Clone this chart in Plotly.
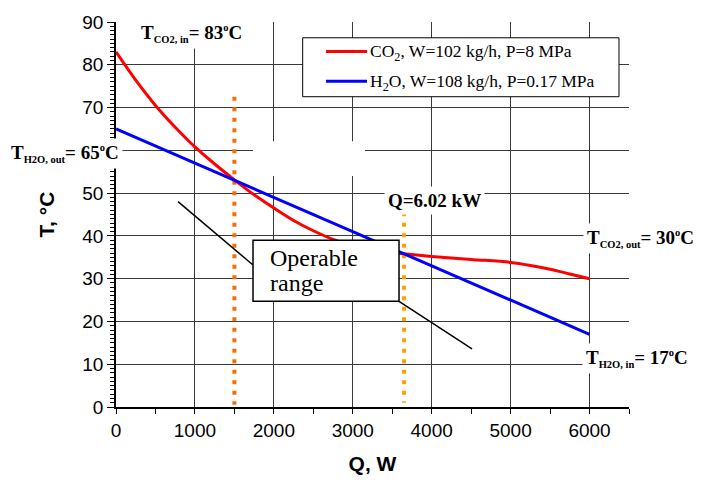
import plotly.graph_objects as go

# ---- data ----
Q_co2 = [0, 250, 500, 750, 1000, 1250, 1500, 1750, 2000, 2250, 2500, 2750,
         3000, 3250, 3500, 3650, 4000, 4500, 5000, 5250, 5500, 5750, 6000]
T_co2 = [83, 76.4, 70.5, 65.4, 60.8, 56.8, 53.1, 49.6, 46.5, 43.6, 41.2, 39.2,
         37.8, 36.8, 36.1, 35.8, 35.2, 34.5, 33.8, 33.1, 32.2, 31.1, 30]
Q_h2o = [0, 6000]
T_h2o = [65, 17]
pinch_Q = [1500, 3650]
pinch_T_top = [72.5, 45.5]
pinch_T_bottom = [0.5, 1.0]
x_ticks = [0, 1000, 2000, 3000, 4000, 5000, 6000]
y_ticks = [0, 10, 20, 30, 40, 50, 60, 70, 80, 90]

name_co2 = "CO<sub>2</sub>, W=102 kg/h, P=8 MPa"
name_h2o = "H<sub>2</sub>O, W=108 kg/h, P=0.17 MPa"
series_colors = ["#FF0000", "#0000FF"]

SANS = "Liberation Sans, Arial, sans-serif"
SERIF = "Liberation Serif, Times New Roman, serif"

fig = go.Figure()

pinch_colors = ["#FF6A00", "#FFA000"]
for q, t0, t1, c in zip(pinch_Q, pinch_T_top, pinch_T_bottom, pinch_colors):
    fig.add_trace(go.Scatter(x=[q, q], y=[t0, t1], mode="lines",
                             line=dict(color=c, width=4, dash="4px,6.5px"),
                             showlegend=False, hoverinfo="skip"))

fig.add_trace(go.Scatter(x=Q_co2, y=T_co2, mode="lines", name=name_co2, showlegend=False,
                         line=dict(color=series_colors[0], width=3, shape="spline", smoothing=1.0)))
fig.add_trace(go.Scatter(x=Q_h2o, y=T_h2o, mode="lines", name=name_h2o, showlegend=False,
                         line=dict(color=series_colors[1], width=3)))

# white patch (gaps in grid in the original) and "Operable range" callout
fig.add_shape(type="rect", x0=1736, x1=3155, y0=54.0, y1=62.1,
              fillcolor="white", line=dict(width=0), layer="between")
fig.add_shape(type="line", x0=786, y0=48.0, x1=1736, y1=33.2,
              line=dict(color="black", width=1.5))
fig.add_shape(type="line", x0=3586, y0=24.7, x1=4511, y1=13.6,
              line=dict(color="black", width=1.5))
fig.add_shape(type="rect", x0=1736, x1=3586, y0=24.7, y1=39.0,
              fillcolor="white", line=dict(color="black", width=1.5), layer="above")

fig.add_annotation(x=1926, y=34.85, xref="x", yref="y", text="Operable",
                   showarrow=False, xanchor="left", yanchor="middle",
                   font=dict(family=SERIF, size=24, color="black"))
fig.add_annotation(x=1926, y=29.1, xref="x", yref="y", text="range",
                   showarrow=False, xanchor="left", yanchor="middle",
                   font=dict(family=SERIF, size=24, color="black"))

# legend box drawn in paper coordinates
fig.add_shape(type="rect", xref="paper", yref="paper", x0=0.3639, x1=0.9805, y0=0.8059, y1=0.959,
              fillcolor="white", line=dict(color="black", width=1), layer="above")
for name, c, yl, yt in zip([name_co2, name_h2o], series_colors, [0.9231, 0.8462], [0.9205, 0.8436]):
    fig.add_shape(type="line", xref="paper", yref="paper", x0=0.4094, x1=0.4893, y0=yl, y1=yl,
                  line=dict(color=c, width=3), layer="above")
    fig.add_annotation(x=0.4932, y=yt, xref="paper", yref="paper", text=name,
                       showarrow=False, xanchor="left", yanchor="middle", borderpad=0,
                       font=dict(family=SERIF, size=17.5, color="black"))


def tlabel(sub, val):
    return ("T<sub><span style='font-size:10.5px'>" + sub + "</span></sub>= " + val +
            "<sup><span style='font-size:10.5px'>o</span></sup>C")


labels = [
    (tlabel("CO2, in", "83"), 0.147, 0.969),
    (tlabel("H2O, out", "65"), -0.0986, 0.659),
    (tlabel("CO2, out", "30"), 1.0224, 0.4385),
    (tlabel("H2O, in", "17"), 1.0162, 0.1256),
    ("Q=6.02 kW", 0.6209, 0.536),
]
for txt, xp, yp in labels:
    fig.add_annotation(x=xp, y=yp, xref="paper", yref="paper", text=txt,
                       showarrow=False, xanchor="center", yanchor="middle",
                       bgcolor="white", borderpad=3,
                       font=dict(family=SERIF, size=19, color="black", weight="bold"))

fig.update_xaxes(range=[0, 6500], tickvals=x_ticks, ticks="outside", ticklen=5,
                 tickwidth=1, tickcolor="black", automargin=True,
                 minor=dict(dtick=500, tick0=0, ticks="outside", ticklen=5, tickcolor="black", showgrid=False),
                 showline=True, linecolor="black", linewidth=1.5,
                 showgrid=True, gridcolor="#3a3a3a", gridwidth=1, zeroline=False,
                 tickfont=dict(family=SANS, size=19, color="black"),
                 title=dict(text="Q, W", standoff=17,
                            font=dict(family=SANS, size=21, color="black", weight="bold")))
fig.update_yaxes(range=[0, 90], tickvals=y_ticks, ticks="outside", ticklen=7,
                 tickwidth=1, tickcolor="black", automargin=True,
                 minor=dict(dtick=1, tick0=0, ticks="outside", ticklen=4, tickcolor="black", showgrid=False),
                 showline=True, linecolor="black", linewidth=1.5,
                 showgrid=True, gridcolor="#3a3a3a", gridwidth=1, zeroline=False,
                 tickfont=dict(family=SANS, size=19, color="black"),
                 title=dict(text="T, °C", standoff=22,
                            font=dict(family=SANS, size=21, color="black", weight="bold")))

fig.update_layout(
    width=710, height=484,
    margin=dict(l=116, r=81, t=17, b=77),
    paper_bgcolor="white", plot_bgcolor="white",
    showlegend=False,
)

fig.write_html("out.html")
